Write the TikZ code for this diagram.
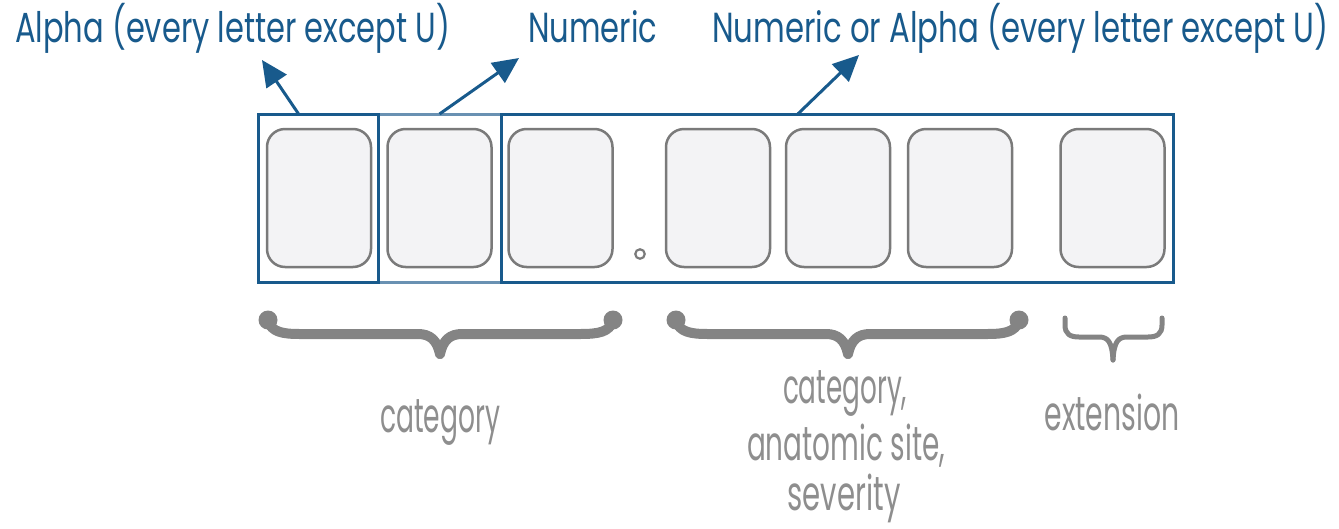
\documentclass[tikz,border=0pt]{standalone}
\usepackage{fontspec}
\setmainfont{Poppins}
\usetikzlibrary{arrows.meta}
\definecolor{blu}{RGB}{24,90,140}
\definecolor{blulight}{RGB}{105,145,178}
\definecolor{boxgray}{RGB}{122,122,122}
\definecolor{boxfill}{RGB}{243,243,245}
\definecolor{txtgray}{RGB}{142,142,142}
\definecolor{bracegray}{RGB}{132,132,132}
\newcommand\fitw[2]{\resizebox{#1}{\height}{#2}}
\begin{document}
\begin{tikzpicture}[x=1pt,y=-1pt,
  toplabel/.style={anchor=base west, inner sep=0, text=blu, font=\fontsize{42}{48}\selectfont},
  botlabel/.style={anchor=base, inner sep=0, text=txtgray, font=\fontsize{48}{53}\selectfont},
  outerbox/.style={draw=blu, line width=3pt, inner sep=0, outer sep=0},
  slot/.style={draw=boxgray, fill=boxfill, line width=2.5pt, rounded corners=18pt,
    minimum width=104pt, minimum height=138pt, inner sep=0},
  pointer/.style={draw=blu, line width=3pt, -{Triangle[length=26pt,width=24pt]}},
  bracepath/.style={draw=bracegray, line width=10pt, line cap=round, line join=round},
  thinbrace/.style={draw=bracegray, line width=5pt, line cap=round, line join=round}
]
\useasboundingbox (0,0) rectangle (1339,528);

% outer frames
\node[outerbox, draw=blulight, minimum width=123pt, minimum height=168pt] (b2) at (439.5,198) {};
\node[outerbox, minimum width=120pt, minimum height=168pt] (b1) at (318,198) {};
\node[outerbox, minimum width=672pt, minimum height=168pt] (b3) at (837,198) {};

% slots
\node[slot] (s1) at (319,198) {};
\node[slot] (s2) at (439.5,198) {};
\node[slot] (s3) at (560.5,198) {};
\node[slot] (s4) at (718,198) {};
\node[slot] (s5) at (838,198) {};
\node[slot] (s6) at (960,198) {};
\node[slot] (s7) at (1112.5,198) {};
\node[circle, draw=boxgray, line width=2.2pt, minimum size=9.5pt, inner sep=0] (dot) at (640,254) {};

% top labels
\node[toplabel] (l1) at (15,42) {\fitw{435pt}{Alpha (every letter except U)}};
\node[toplabel] (l2) at (528,42) {\fitw{129pt}{Numeric}};
\node[toplabel] (l3) at (712,42) {\fitw{616pt}{Numeric or Alpha (every letter except U)}};

% pointer arrows
\coordinate (t1) at (262,60);
\coordinate (t2) at (519,58);
\coordinate (t3) at (859,55);
\draw[pointer] (b1.103.4) -- (t1);
\draw[pointer] (b2.north) -- (t2);
\draw[pointer] (b3.115.5) -- (t3);

% braces
\draw[bracepath] (268,321) .. controls (272,332) and (282,334) .. (300,334) -- (418,334)
  .. controls (430,334) and (437,340) .. (440,354);
\draw[bracepath] (613,321) .. controls (609,332) and (599,334) .. (580,334) -- (462,334)
  .. controls (450,334) and (443,340) .. (440,354);
\fill[bracegray] (268,320) circle[radius=9.5pt] (613,320) circle[radius=9.5pt];

\draw[bracepath] (676,321) .. controls (680,332) and (690,334) .. (708,334) -- (826,334)
  .. controls (838,334) and (845,340) .. (848,354);
\draw[bracepath] (1019,321) .. controls (1015,332) and (1005,334) .. (987,334) -- (870,334)
  .. controls (858,334) and (851,340) .. (848,354);
\fill[bracegray] (676,320) circle[radius=9.5pt] (1019,320) circle[radius=9.5pt];

\draw[thinbrace] (1065,318) -- (1065,325) .. controls (1065,334) and (1070,337) .. (1079,337)
  -- (1099,337) .. controls (1108,337) and (1112,342) .. (1113,360);
\draw[thinbrace] (1162,318) -- (1162,325) .. controls (1162,334) and (1157,337) .. (1148,337)
  -- (1127,337) .. controls (1118,337) and (1114,342) .. (1113,360);

% bottom labels
\node[botlabel] (c1) at (440,432) {\fitw{120pt}{category}};
\node[botlabel] (c2a) at (845,403) {\fitw{124pt}{category,}};
\node[botlabel] (c2b) at (846,460) {\fitw{198pt}{anatomic site,}};
\node[botlabel] (c2c) at (844,510) {\fitw{113pt}{severity}};
\node[botlabel] (c3) at (1112,430) {\fitw{135pt}{extension}};
\end{tikzpicture}
\end{document}
